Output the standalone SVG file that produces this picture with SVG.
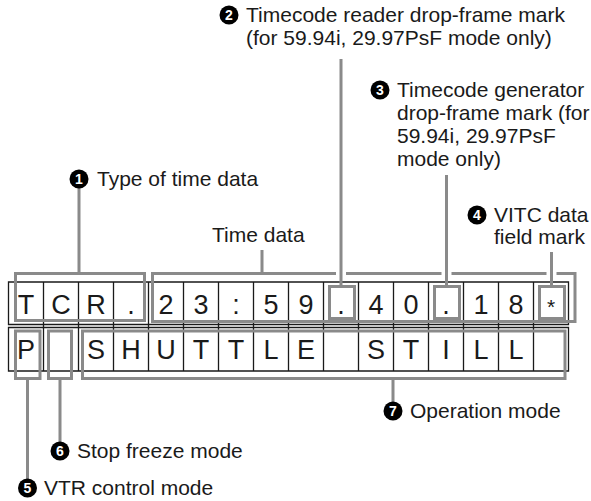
<svg xmlns="http://www.w3.org/2000/svg" width="591" height="501" viewBox="0 0 591 501">
<style>
.lbl{font-family:"Liberation Sans",Arial,sans-serif;font-size:21px;fill:#1a1a1a}
.cell{font-family:"Liberation Sans",Arial,sans-serif;font-size:27px;fill:#1a1a1a;text-anchor:middle}
.num{font-family:"Liberation Sans",Arial,sans-serif;font-size:14px;font-weight:bold;fill:#fff;text-anchor:middle}
.grid{stroke:#1a1a1a;stroke-width:1.3;fill:none}
.br{stroke:#8a8a8a;stroke-width:3;fill:none}
</style>
<rect width="591" height="501" fill="#fff"/>
<g id="display">
<path class="grid" d="M8.5 282H568.5V324.5H8.5Z M8.5 327.5H568.5V371H8.5Z"/>
<path class="grid" d="M43.5 282V371M78.5 282V371M113.5 282V371M148.5 282V371M183.5 282V371M218.5 282V371M253.5 282V371M288.5 282V371M323.5 282V371M358.5 282V371M393.5 282V371M428.5 282V371M463.5 282V371M498.5 282V371M533.5 282V371"/>
<g class="cell">
<text x="26" y="313.5">T</text><text x="61" y="313.5">C</text><text x="96" y="313.5">R</text><text x="131" y="313.5">.</text>
<text x="166" y="313.5">2</text><text x="201" y="313.5">3</text><text x="236" y="313.5">:</text><text x="271" y="313.5">5</text>
<text x="306" y="313.5">9</text><text x="341" y="313.5">.</text><text x="376" y="313.5">4</text><text x="411" y="313.5">0</text>
<text x="446" y="313.5">.</text><text x="481" y="313.5">1</text><text x="516" y="313.5">8</text><text x="551" y="313.5" font-size="21">*</text>
<text x="26" y="358.5">P</text>
<text x="96" y="358.5">S</text><text x="131" y="358.5">H</text><text x="166" y="358.5">U</text><text x="201" y="358.5">T</text>
<text x="236" y="358.5">T</text><text x="271" y="358.5">L</text><text x="306" y="358.5">E</text>
<text x="376" y="358.5">S</text><text x="411" y="358.5">T</text><text x="446" y="358.5">I</text><text x="481" y="358.5">L</text>
<text x="516" y="358.5">L</text>
</g>
</g>
<g id="connectors">
<rect class="br" x="15.5" y="273.5" width="129" height="47"/>
<path class="br" d="M336 273.5H152.5V321.5H575V273.5H556.5M546.5 273.5H451.5M441.5 273.5H346"/>
<rect class="br" x="329.5" y="286.5" width="25" height="32"/>
<rect class="br" x="434.5" y="286.5" width="25" height="32"/>
<rect class="br" x="539.5" y="286.5" width="25" height="32"/>
<rect class="br" x="15.5" y="331" width="24.5" height="47.5"/>
<rect class="br" x="48.5" y="331" width="23" height="47.5"/>
<rect class="br" x="82.5" y="331" width="482.5" height="47.5"/>
<path class="br" d="M79 188V273.5M262 250V273.5M341 59V286.5M446.5 175V286.5M551.5 252V286.5M393 378.5V402M60 378.5V442M27.5 378.5V479"/>
</g>
<g id="label1"><circle cx="79" cy="179" r="9.5"/><text class="num" x="79" y="184">1</text><text class="lbl" x="97" y="186">Type of time data</text></g>
<g id="label2"><circle cx="229" cy="15" r="9.5"/><text class="num" x="229" y="20">2</text><text class="lbl" x="246" y="22">Timecode reader drop-frame mark</text><text class="lbl" x="246" y="45">(for 59.94i, 29.97PsF mode only)</text></g>
<g id="label3"><circle cx="380" cy="90" r="9.5"/><text class="num" x="380" y="95">3</text><text class="lbl" x="397" y="97">Timecode generator</text><text class="lbl" x="397" y="120">drop-frame mark (for</text><text class="lbl" x="397" y="143">59.94i, 29.97PsF</text><text class="lbl" x="397" y="166">mode only)</text></g>
<g id="label4"><circle cx="477" cy="215" r="9.5"/><text class="num" x="477" y="220">4</text><text class="lbl" x="494" y="222">VITC data</text><text class="lbl" x="494" y="244">field mark</text></g>
<g id="label-time"><text class="lbl" x="212" y="242">Time data</text></g>
<g id="label7"><circle cx="393" cy="411" r="9.5"/><text class="num" x="393" y="416">7</text><text class="lbl" x="410" y="418">Operation mode</text></g>
<g id="label6"><circle cx="60" cy="451" r="9.5"/><text class="num" x="60" y="456">6</text><text class="lbl" x="77" y="458">Stop freeze mode</text></g>
<g id="label5"><circle cx="27.5" cy="488" r="9.5"/><text class="num" x="27.5" y="493">5</text><text class="lbl" x="44" y="495">VTR control mode</text></g>
</svg>
